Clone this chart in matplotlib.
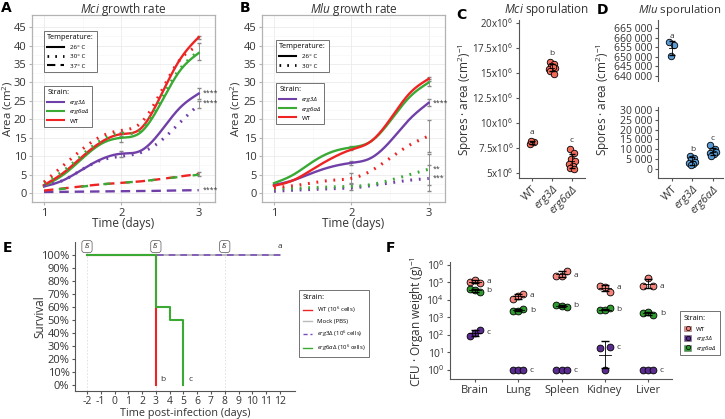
import numpy as np
import matplotlib
matplotlib.use('Agg')
import matplotlib.pyplot as plt
from matplotlib.lines import Line2D
from matplotlib.patches import Patch

plt.rcParams['font.family'] = ['Open Sans', 'DejaVu Sans']
plt.rcParams['mathtext.fontset'] = 'custom'
plt.rcParams['mathtext.rm'] = 'Open Sans'
plt.rcParams['mathtext.it'] = 'Open Sans:italic'
plt.rcParams['mathtext.default'] = 'rm'
plt.rcParams['axes.unicode_minus'] = False

# ---------------- data ----------------
t_grid = [1, 1.25, 1.5, 1.75, 2, 2.25, 2.5, 2.75, 3]
# Panel A (Mci growth)
a26_erg3 = [1.8, 3.5, 6.5, 9.3, 10.7, 11.5, 16.5, 23.0, 27.0]
a26_erg6a = [2.0, 5.0, 9.5, 13.5, 15.0, 16.5, 24.0, 33.0, 38.0]
a26_wt = [2.2, 5.5, 10.0, 14.0, 16.0, 17.5, 26.0, 36.0, 42.3]
a30_erg3 = [2.0, 3.5, 6.5, 9.0, 10.0, 11.0, 14.0, 19.0, 24.0]
a30_erg6a = [2.8, 6.0, 10.5, 14.5, 16.3, 17.0, 25.0, 33.5, 38.5]
a30_wt = [3.0, 7.5, 12.0, 15.5, 17.0, 19.0, 27.0, 36.0, 40.0]
a37_erg3 = [0.3, 0.35, 0.4, 0.45, 0.5, 0.55, 0.65, 0.75, 0.8]
a37_erg6a = [0.6, 1.2, 1.8, 2.4, 2.8, 3.2, 3.8, 4.4, 5.0]
a37_wt = [0.7, 1.3, 1.9, 2.4, 2.8, 3.2, 3.8, 4.5, 5.2]
# Panel B (Mlu growth)
b26_erg3 = [2.2, 3.5, 5.5, 7.2, 8.2, 9.5, 14.0, 20.0, 24.5]
b26_erg6a = [2.7, 5.0, 8.5, 11.2, 12.4, 14.0, 19.5, 26.0, 30.0]
b26_wt = [2.0, 3.5, 6.5, 9.5, 11.8, 14.0, 20.0, 27.0, 31.0]
b30_erg3 = [0.5, 0.8, 1.0, 1.2, 1.4, 2.0, 2.8, 3.5, 4.0]
b30_erg6a = [1.2, 1.3, 1.5, 1.7, 1.8, 2.3, 3.5, 5.0, 6.5]
b30_wt = [1.5, 2.0, 2.8, 3.5, 4.0, 6.0, 9.5, 13.0, 15.5]
# error bars (time, mean, sd)
a_err_t = [2, 2, 2, 3, 3, 3, 3, 3]
a_err_m = [16.0, 15.0, 10.7, 42.3, 38.4, 27.0, 24.0, 5.1]
a_err_sd = [0.5, 1.0, 0.8, 0.4, 2.2, 1.4, 1.0, 0.5]
b_err_t = [2, 2, 2, 2, 3, 3, 3, 3, 3, 3]
b_err_m = [12.3, 8.2, 4.0, 1.8, 31.0, 30.0, 24.5, 15.5, 6.5, 4.0]
b_err_sd = [0.5, 0.6, 1.5, 1.0, 0.6, 1.0, 1.0, 4.3, 4.2, 3.5]
# Panel C (Mci sporulation), spores per cm2 (x1e6)
c_wt = [7.9, 8.1, 8.2]
c_erg3 = [16.1, 15.9, 15.7, 15.5, 15.4, 15.6, 15.2, 14.9]
c_erg6a = [7.4, 7.0, 6.4, 6.2, 5.9, 5.7, 5.5, 5.4]
# Panel D (Mlu sporulation)
d_wt = [657500, 656000, 650200]
d_erg3 = [6800, 5600, 5000, 3800, 2900, 2400, 2000]
d_erg6a = [12000, 10200, 9000, 8500, 8000, 7500, 6500]
strain_labels = ['WT', 'erg3Δ', 'erg6aΔ']
# Panel E (survival)
e_wt_t = [-2, 3]
e_wt_s = [100, 0]
e_mock_t = [-2, 12]
e_mock_s = [100, 100]
e_erg3_t = [-2, 12]
e_erg3_s = [100, 100]
e_erg6a_t = [-2, 3, 4, 5]
e_erg6a_s = [100, 60, 50, 0]
e_is_days = [-2, 3, 8]
# Panel F (CFU per organ weight)
organs = ['Brain', 'Lung', 'Spleen', 'Kidney', 'Liver']
f_wt = [[1.1e5, 1.3e5, 9e4], [1.1e4, 1.8e4, 2.2e4], [2.5e5, 2.2e5, 4.8e5],
        [6.5e4, 5.5e4, 3e4], [6e4, 1.8e5, 6e4]]
f_erg3 = [[90, 130, 180], [0, 0, 0], [0, 0, 0], [18, 0, 21], [0, 0, 0]]
f_erg6a = [[4e4, 3.7e4, 3e4], [2.5e3, 2.4e3, 3.2e3], [5.5e3, 4.8e3, 4.2e3],
           [2.7e3, 2.6e3, 3.3e3], [1.8e3, 2.1e3, 1.4e3]]

# ---------------- style ----------------
RED = '#EE2424'
GREEN = '#3AAA35'
PURPLE = '#7040A8'
F_WT = '#F4847C'
F_E3 = '#5B2C8F'
F_E6 = '#2F9A30'
C_COL = '#F26A5A'
D_COL = '#5A9BD5'
GRIDC = '#EBEBEB'
TXT = '#333333'

W, H = 725, 419
fig = plt.figure(figsize=(W / 100, H / 100), dpi=100)


def ax_px(l, t, r, b):
    return fig.add_axes([l / W, 1 - b / H, (r - l) / W, (b - t) / H])


def ftext(x, y, s, **kw):
    return fig.text(x / W, 1 - y / H, s, **kw)


def spline(x, y, xs):
    x = np.asarray(x, float); y = np.asarray(y, float)
    n = len(x); h = np.diff(x)
    A = np.zeros((n, n)); rhs = np.zeros(n)
    A[0, 0] = A[-1, -1] = 1
    for i in range(1, n - 1):
        A[i, i - 1] = h[i - 1]; A[i, i] = 2 * (h[i - 1] + h[i]); A[i, i + 1] = h[i]
        rhs[i] = 3 * ((y[i + 1] - y[i]) / h[i] - (y[i] - y[i - 1]) / h[i - 1])
    c = np.linalg.solve(A, rhs)
    b = (y[1:] - y[:-1]) / h - h * (2 * c[:-1] + c[1:]) / 3
    d = (c[1:] - c[:-1]) / (3 * h)
    idx = np.clip(np.searchsorted(x, xs) - 1, 0, n - 2)
    dx = xs - x[idx]
    return y[idx] + b[idx] * dx + c[idx] * dx ** 2 + d[idx] * dx ** 3


def panel_label(x, y, s):
    ftext(x, y, s, fontsize=10, fontweight='bold', family='DejaVu Sans', ha='left', va='center')


def set_ylab(ax, text, xpx, size=8.5):
    pos = ax.get_position()
    ftext(xpx, (1 - (pos.y0 + pos.y1) / 2) * H, text, rotation=90, fontsize=size, color=TXT,
          ha='center', va='center')


def growth_axes(ax, title, ylab_px):
    ax.set_xlim(0.845, 3.21)
    ax.set_ylim(-2.4, 48.3)
    ax.set_xticks([1, 2, 3])
    ax.set_yticks(range(0, 50, 5))
    ax.set_xticks([1.5, 2.5], minor=True)
    ax.set_yticks(np.arange(2.5, 48, 5), minor=True)
    ax.grid(True, which='major', color=GRIDC, lw=0.6)
    ax.grid(True, which='minor', color='#F5F5F5', lw=0.4)
    ax.set_axisbelow(True)
    for s in ax.spines.values():
        s.set_color('#B3B3B3'); s.set_linewidth(0.9)
    ax.tick_params(which='major', length=2.5, color='#B3B3B3', labelsize=8, labelcolor=TXT, pad=1.5)
    ax.tick_params(which='minor', length=0)
    ax.set_xlabel('Time (days)', fontsize=8.5, color=TXT, labelpad=-1)
    set_ylab(ax, 'Area (cm$^2$)', ylab_px, size=8.2)
    pos = ax.get_position()
    fig.text((pos.x0 + pos.x1) / 2, 1 - 10 / H, title, fontsize=8.5, color=TXT, ha='center', va='center')


ts = np.linspace(1, 3, 200)
SOLID = '-'
DOT = (0, (0.6, 2.2))
DASH = (0, (4, 2.5))

# ---------------- Panel A ----------------
axA = ax_px(32, 15, 215, 202)
growth_axes(axA, '$\\it{Mci}$ growth rate', 7.5)
axA.errorbar(a_err_t, a_err_m, yerr=a_err_sd, fmt='none', ecolor='#888888', elinewidth=0.6, capsize=1.5, zorder=1)
for data, col, ls, lw in [(a26_erg3, PURPLE, SOLID, 1.7), (a26_erg6a, GREEN, SOLID, 1.7), (a26_wt, RED, SOLID, 1.7),
                          (a30_erg3, PURPLE, DOT, 2.2), (a30_erg6a, GREEN, DOT, 2.2), (a30_wt, RED, DOT, 2.2),
                          (a37_erg3, PURPLE, DASH, 1.7), (a37_wt, RED, DASH, 1.7)]:
    axA.plot(ts, spline(t_grid, data, ts), color=col, ls=ls, lw=lw, zorder=3)
axA.plot(ts, spline(t_grid, a37_erg6a, ts), color=GREEN, ls=(3.2, (3, 6.5)), lw=1.7, zorder=4)
for yv in [27.2, 24.3, 0.7]:
    axA.text(3.055, yv, '****', fontsize=5, color=TXT, va='center', ha='left')
panel_label(1, 8, 'A')

legT = [Line2D([], [], color='black', ls=SOLID, lw=1.5),
        Line2D([], [], color='black', ls=DOT, lw=2),
        Line2D([], [], color='black', ls=DASH, lw=1.5)]
lg1 = fig.legend(legT, ['26° C', '30° C', '37° C'], title='Temperature:', loc='upper left',
                 bbox_to_anchor=(41 / W, 1 - 28 / H), fontsize=4.5, title_fontsize=5.2, frameon=True,
                 fancybox=False, edgecolor='#333333', handlelength=2.6, borderpad=0.5,
                 labelspacing=0.6, handletextpad=1.0, alignment='left')
lg1.get_frame().set_linewidth(0.6)
legS = [Line2D([], [], color=PURPLE, lw=1.5), Line2D([], [], color=GREEN, lw=1.5), Line2D([], [], color=RED, lw=1.5)]
lg2 = fig.legend(legS, ['erg3Δ', 'erg6aΔ', 'WT'], title='Strain:', loc='upper left',
                 bbox_to_anchor=(41 / W, 1 - 83 / H), fontsize=4.5, title_fontsize=5.2, frameon=True,
                 fancybox=False, edgecolor='#333333', handlelength=2.6, borderpad=0.5,
                 labelspacing=0.6, handletextpad=1.0, alignment='left')
lg2.get_frame().set_linewidth(0.6)
for txt in lg2.get_texts()[:2]:
    txt.set_fontstyle('italic')

# ---------------- Panel B ----------------
axB = ax_px(262, 15, 445, 202)
growth_axes(axB, '$\\it{Mlu}$ growth rate', 236)
axB.errorbar(b_err_t, b_err_m, yerr=b_err_sd, fmt='none', ecolor='#888888', elinewidth=0.6, capsize=1.5, zorder=1)
for data, col, ls, lw in [(b26_erg3, PURPLE, SOLID, 1.7), (b26_erg6a, GREEN, SOLID, 1.7), (b26_wt, RED, SOLID, 1.7),
                          (b30_erg3, PURPLE, DOT, 2.2), (b30_erg6a, GREEN, DOT, 2.2), (b30_wt, RED, DOT, 2.2)]:
    axB.plot(ts, spline(t_grid, data, ts), color=col, ls=ls, lw=lw, zorder=3)
for yv, s in [(24.5, '****'), (6.6, '**'), (4.0, '***')]:
    axB.text(3.055, yv, s, fontsize=5, color=TXT, va='center', ha='left')
panel_label(240, 8, 'B')
lg3 = fig.legend(legT[:2], ['26° C', '30° C'], title='Temperature:', loc='upper left',
                 bbox_to_anchor=(273 / W, 1 - 37 / H), fontsize=4.5, title_fontsize=5.2, frameon=True,
                 fancybox=False, edgecolor='#333333', handlelength=2.6, borderpad=0.5,
                 labelspacing=0.6, handletextpad=1.0, alignment='left')
lg3.get_frame().set_linewidth(0.6)
lg4 = fig.legend(legS, ['erg3Δ', 'erg6aΔ', 'WT'], title='Strain:', loc='upper left',
                 bbox_to_anchor=(273 / W, 1 - 80 / H), fontsize=4.5, title_fontsize=5.2, frameon=True,
                 fancybox=False, edgecolor='#333333', handlelength=2.6, borderpad=0.5,
                 labelspacing=0.6, handletextpad=1.0, alignment='left')
lg4.get_frame().set_linewidth(0.6)
for txt in lg4.get_texts()[:2]:
    txt.set_fontstyle('italic')


def classic(ax, left=True, bottom=True, lsize=8):
    ax.spines['top'].set_visible(False)
    ax.spines['right'].set_visible(False)
    ax.spines['left'].set_visible(left)
    ax.spines['bottom'].set_visible(bottom)
    for s in ax.spines.values():
        s.set_color('#555555'); s.set_linewidth(0.8)
    ax.tick_params(length=2.5, color='#555555', labelsize=lsize, labelcolor=TXT, pad=1.5)
    ax.set_facecolor('none')


def jitter_offsets(n):
    pat = [-0.12, 0.1, -0.05, 0.14, -0.14, 0.05, -0.08, 0.12]
    return np.array(pat[:n])


def strip(ax, groups, color, scale=1.0):
    for i, g in enumerate(groups):
        if len(g) == 0:
            continue
        g = np.asarray(g, float)
        xs = i + jitter_offsets(len(g))
        ax.scatter(xs, g * scale, s=22, color=color, edgecolor='black', linewidth=0.6, zorder=3)
        m = g.mean() * scale; sd = g.std(ddof=1) * scale
        ax.errorbar([i], [m], yerr=[sd], fmt='none', ecolor='black', elinewidth=0.6, capsize=2.5, zorder=4)
        ax.plot([i - 0.12, i + 0.12], [m, m], color='black', lw=0.6, zorder=4)


# ---------------- Panel C ----------------
axC = ax_px(519, 20, 585, 178)
classic(axC, lsize=7)
strip(axC, [c_wt, c_erg3, c_erg6a], C_COL, scale=1e6)
axC.set_xlim(-0.65, 2.65)
axC.set_ylim(4.49e6, 20.3e6)
cticks = [5, 7.5, 10, 12.5, 15, 17.5, 20]
axC.set_yticks([v * 1e6 for v in cticks])
axC.set_yticklabels([('%g' % v) + 'x10$^6$' for v in cticks], fontsize=7)
axC.set_xticks([0, 1, 2])
axC.set_xticklabels(strain_labels, rotation=45, ha='right', rotation_mode='anchor', fontsize=8)
for lab in axC.get_xticklabels()[1:]:
    lab.set_fontstyle('italic')
for i, (g, l) in enumerate(zip([c_wt, c_erg3, c_erg6a], 'abc')):
    axC.text(i, max(g) * 1e6 + 0.5e6, l, fontsize=6, color=TXT, ha='center', va='bottom')
ftext(547, 10, '$\\it{Mci}$ sporulation', fontsize=8.5, color=TXT, ha='center', va='center')
ftext(465, 100, 'Spores · area (cm$^2$)$^{-1}$', rotation=90, fontsize=8.5, color=TXT,
      ha='center', va='center')
panel_label(456, 15, 'C')

# ---------------- Panel D ----------------
axD1 = ax_px(658, 20, 723, 81)
axD2 = ax_px(658, 107, 723, 178)
classic(axD1, bottom=False, lsize=7.5)
classic(axD2, lsize=7.5)
strip(axD1, [d_wt, [], []], D_COL)
strip(axD2, [[], d_erg3, d_erg6a], D_COL)
for a in (axD1, axD2):
    a.set_xlim(-0.68, 2.5)
axD1.set_ylim(637400, 669200)
axD2.set_ylim(-4575, 31500)
axD1.set_xticks([])
d1t = [640000, 645000, 650000, 655000, 660000, 665000]
d2t = [0, 5000, 10000, 15000, 20000, 25000, 30000]
fmt = lambda v: ('{:,}'.format(v)).replace(',', ' ')
axD1.set_yticks(d1t); axD1.set_yticklabels([fmt(v) for v in d1t], fontsize=7.5)
axD2.set_yticks(d2t); axD2.set_yticklabels([fmt(v) for v in d2t], fontsize=7.5)
axD2.set_xticks([0, 1, 2])
axD2.set_xticklabels(strain_labels, rotation=45, ha='right', rotation_mode='anchor', fontsize=8)
for lab in axD2.get_xticklabels()[1:]:
    lab.set_fontstyle('italic')
axD1.text(0, max(d_wt) + 1500, 'a', fontsize=6, color=TXT, ha='center', va='bottom')
axD2.text(1, max(d_erg3) + 1500, 'b', fontsize=6, color=TXT, ha='center', va='bottom')
axD2.text(2, max(d_erg6a) + 1500, 'c', fontsize=6, color=TXT, ha='center', va='bottom')
ftext(722, 10, '$\\it{Mlu}$ sporulation', fontsize=8.2, color=TXT, ha='right', va='center')
ftext(603, 100, 'Spores · area (cm$^2$)$^{-1}$', rotation=90, fontsize=8.5, color=TXT,
      ha='center', va='center')
panel_label(597, 10, 'D')

# ---------------- Panel E ----------------
axE = ax_px(75, 242, 295, 391)
classic(axE)
axE.set_xlim(-2.87, 13.1)
axE.set_ylim(-4.6, 110)
axE.set_xticks(range(-2, 13))
axE.set_yticks(range(0, 101, 10))
axE.set_yticklabels(['%d%%' % v for v in range(0, 101, 10)], fontsize=8)
axE.tick_params(axis='x', labelsize=7.5, pad=1)
for d in e_is_days:
    axE.axvline(d, color='#DDDDDD', lw=0.6, ls=(0, (2, 2)), zorder=0)
    axE.text(d, 106.5, 'IS', fontsize=5, fontstyle='italic', color=TXT, ha='center', va='center',
             bbox=dict(boxstyle='round,pad=0.35', fc='white', ec='#555555', lw=0.5))
axE.step(e_mock_t, e_mock_s, where='post', color='#BBBBBB', lw=1.4, zorder=2)
axE.step(e_erg3_t, e_erg3_s, where='post', color='#7A50B8', lw=1.2, ls=(0, (4, 3)), zorder=3)
axE.step(e_wt_t, e_wt_s, where='post', color=RED, lw=1.5, zorder=4)
axE.step(e_erg6a_t, e_erg6a_s, where='post', color=GREEN, lw=1.5, zorder=5)
axE.text(12, 104, 'a', fontsize=6, color=TXT, ha='center', va='bottom')
axE.text(3.35, 4, 'b', fontsize=6, color=TXT, ha='left', va='center')
axE.text(5.35, 4, 'c', fontsize=6, color=TXT, ha='left', va='center')
ftext(185, 413.5, 'Time post-infection (days)', fontsize=7.8, color=TXT, ha='center', va='center')
set_ylab(axE, 'Survival', 40)
panel_label(3, 248, 'E')
legE = [Line2D([], [], color=RED, lw=1.0), Line2D([], [], color='#BBBBBB', lw=1.0),
        Line2D([], [], color='#7A50B8', lw=1.0, ls=(0, (3, 2))), Line2D([], [], color=GREEN, lw=1.0)]
lgE = fig.legend(legE, ['WT (10$^6$ cells)', 'Mock (PBS)', '$\\it{erg3}$Δ (10$^6$ cells)',
                        '$\\it{erg6a}$Δ (10$^6$ cells)'],
                 title='Strain:', loc='upper left', bbox_to_anchor=(296 / W, 1 - 287 / H), fontsize=4.3,
                 title_fontsize=5.2, frameon=True, fancybox=False, edgecolor='#333333', handlelength=1.6,
                 borderpad=0.6, labelspacing=0.7, handletextpad=0.8, alignment='left')
lgE.get_frame().set_linewidth(0.6)

# ---------------- Panel F ----------------
axF = ax_px(450, 262, 672, 379)
classic(axF)
axF.set_yscale('log')
axF.set_xlim(-0.577, 4.55)
offs = np.array([-0.12, 0.0, 0.12])
for i in range(len(organs)):
    for vals, col, let in [(f_wt[i], F_WT, 'a'), (f_erg6a[i], F_E6, 'b'), (f_erg3[i], F_E3, 'c')]:
        v = np.asarray(vals, float) + 1
        axF.scatter(i + offs, v, s=24, color=col, edgecolor='black', linewidth=0.6, zorder=3)
        lv = np.log10(v)
        m, sd = lv.mean(), lv.std(ddof=1)
        if sd > 0.02:
            axF.errorbar([i], [10 ** m], yerr=[[10 ** m - 10 ** (m - sd)], [10 ** (m + sd) - 10 ** m]],
                         fmt='none', ecolor='black', elinewidth=0.6, capsize=3, zorder=4)
            axF.plot([i - 0.13, i + 0.13], [10 ** m, 10 ** m], color='black', lw=0.6, zorder=4)
        axF.text(i + 0.27, 10 ** np.median(lv), let, fontsize=6, color=TXT, ha='left', va='center')
axF.set_xticks(range(len(organs)))
axF.set_xticklabels(organs, fontsize=8)
axF.set_yticks([10 ** k for k in range(7)])
axF.set_yticklabels(['10$^{%d}$' % k for k in range(7)], fontsize=7.5)
axF.minorticks_off()
axF.set_ylim(10 ** -0.514, 10 ** 6.17)
ftext(417, 322, 'CFU · Organ weight (g)$^{-1}$', rotation=90, fontsize=8.5, color=TXT,
      ha='center', va='center')
panel_label(386, 248, 'F')

legF = [(Patch(facecolor=c, edgecolor='#777777', lw=0.4),
         Line2D([], [], marker='o', ls='none', markersize=3, markerfacecolor=c, markeredgecolor='black',
                markeredgewidth=0.5)) for c in (F_WT, F_E3, F_E6)]
lgF = fig.legend(legF, ['WT', 'erg3Δ', 'erg6aΔ'], title='Strain:', loc='upper left',
                 bbox_to_anchor=(677 / W, 1 - 308 / H), fontsize=4.5, title_fontsize=5.2, frameon=True,
                 fancybox=False, edgecolor='#333333', handlelength=1.2, handleheight=1.0, borderpad=0.6,
                 labelspacing=0.6, handletextpad=0.8, alignment='left')
lgF.get_frame().set_linewidth(0.6)
for txt in lgF.get_texts()[1:]:
    txt.set_fontstyle('italic')

fig.savefig('out.png', dpi=100)
